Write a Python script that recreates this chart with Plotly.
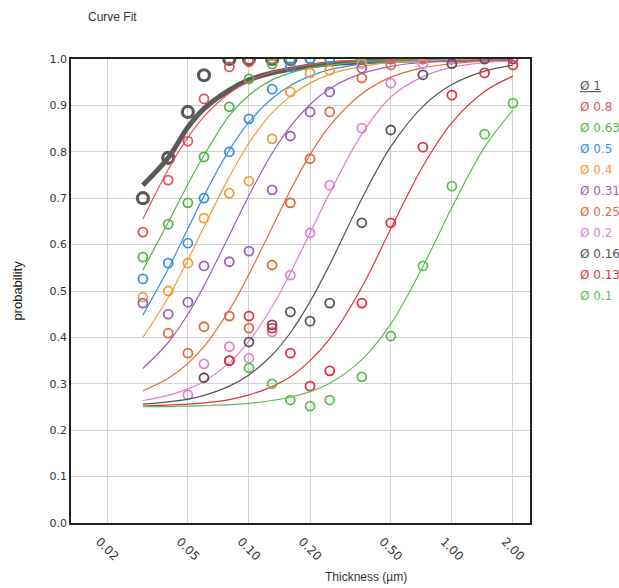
import plotly.graph_objects as go
import math

# ---------------- data ----------------
thickness = [0.03, 0.04, 0.05, 0.06, 0.08, 0.1, 0.13, 0.16, 0.2, 0.25, 0.36, 0.5, 0.72, 1.0, 1.45, 2.0]

series_names = ["1", "0.8", "0.63", "0.5", "0.4", "0.31", "0.25", "0.2", "0.16", "0.13", "0.1"]
series_colors = ["#5a5a5a", "#e8505b", "#55b548", "#3b8ede", "#f39c34", "#9b5fc0",
                 "#e06a3c", "#e47fd0", "#555555", "#e6303e", "#5bbf4e"]

# measured points: (first index into thickness, values)
pts_1 = (0, [0.700, 0.787, 0.886, 0.965, 1.0, 1.0, 1.0, 1.0])
pts_08 = (0, [0.627, 0.739, 0.823, 0.914, 0.983, 0.994, 1.0, 1.0, 1.0])
pts_063 = (0, [0.573, 0.644, 0.690, 0.789, 0.897, 0.957, 0.989, 1.0, 1.0, 1.0])
pts_05 = (0, [0.526, 0.560, 0.603, 0.700, 0.800, 0.871, 0.935, 0.983, 1.0, 1.0, 1.0])
pts_04 = (0, [0.487, 0.500, 0.560, 0.657, 0.711, 0.737, 0.828, 0.929, 0.970, 0.976, 0.990, 1.0])
pts_031 = (0, [0.474, 0.450, 0.476, 0.554, 0.563, 0.586, 0.718, 0.834, 0.886, 0.929, 0.980, 1.0, 1.0])
pts_025 = (1, [0.409, 0.366, 0.423, 0.446, 0.420, 0.556, 0.690, 0.785, 0.886, 0.959, 0.987, 1.0, 1.0])
pts_02 = (2, [0.276, 0.343, 0.380, 0.355, 0.412, 0.534, 0.625, 0.728, 0.851, 0.948, 0.990, 1.0, 1.0])
pts_016 = (3, [0.313, 0.350, 0.390, 0.427, 0.455, 0.435, 0.474, 0.647, 0.847, 0.966, 0.990, 1.0, 1.0])
pts_013 = (4, [0.350, 0.446, 0.420, 0.366, 0.295, 0.328, 0.474, 0.647, 0.810, 0.922, 0.970, 0.987])
pts_01 = (5, [0.334, 0.300, 0.265, 0.252, 0.265, 0.315, 0.403, 0.554, 0.726, 0.838, 0.905])

# fitted curves, read at each thickness value
fit_1 = [0.728, 0.787, 0.853, 0.893, 0.933, 0.955, 0.970, 0.978, 0.985, 0.990, 0.994, 0.997, 0.998, 0.999, 1.0, 1.0]
fit_08 = [0.655, 0.762, 0.831, 0.876, 0.926, 0.952, 0.972, 0.981, 0.988, 0.993, 0.997, 0.998, 0.999, 1.0, 1.0, 1.0]
fit_063 = [0.545, 0.648, 0.730, 0.792, 0.878, 0.922, 0.955, 0.970, 0.981, 0.987, 0.994, 0.997, 0.999, 1.0, 1.0, 1.0]
fit_05 = [0.448, 0.548, 0.634, 0.705, 0.804, 0.864, 0.915, 0.943, 0.963, 0.977, 0.989, 0.994, 0.997, 0.999, 0.999, 1.0]
fit_04 = [0.400, 0.486, 0.567, 0.638, 0.746, 0.819, 0.884, 0.920, 0.948, 0.967, 0.984, 0.992, 0.996, 0.998, 0.999, 1.0]
fit_031 = [0.333, 0.389, 0.450, 0.511, 0.620, 0.706, 0.797, 0.855, 0.902, 0.936, 0.969, 0.984, 0.993, 0.996, 0.998, 0.999]
fit_025 = [0.285, 0.312, 0.344, 0.380, 0.459, 0.536, 0.637, 0.717, 0.794, 0.856, 0.925, 0.961, 0.981, 0.990, 0.996, 0.998]
fit_02 = [0.264, 0.275, 0.289, 0.305, 0.345, 0.392, 0.466, 0.539, 0.625, 0.711, 0.838, 0.918, 0.962, 0.982, 0.992, 0.996]
fit_016 = [0.256, 0.261, 0.267, 0.275, 0.295, 0.319, 0.362, 0.410, 0.477, 0.557, 0.699, 0.811, 0.898, 0.945, 0.974, 0.987]
fit_013 = [0.252, 0.254, 0.256, 0.259, 0.266, 0.276, 0.294, 0.315, 0.350, 0.397, 0.508, 0.634, 0.769, 0.863, 0.930, 0.963]
fit_01 = [0.251, 0.251, 0.252, 0.253, 0.255, 0.258, 0.264, 0.271, 0.283, 0.301, 0.352, 0.429, 0.553, 0.680, 0.810, 0.890]

all_pts = [pts_1, pts_08, pts_063, pts_05, pts_04, pts_031, pts_025, pts_02, pts_016, pts_013, pts_01]
all_fits = [fit_1, fit_08, fit_063, fit_05, fit_04, fit_031, fit_025, fit_02, fit_016, fit_013, fit_01]

x_tick_vals = [0.02, 0.05, 0.1, 0.2, 0.5, 1.0, 2.0]
x_tick_text = ["0.02", "0.05", "0.10", "0.20", "0.50", "1.00", "2.00"]
y_tick_vals = [i / 10 for i in range(11)]
y_tick_text = ["%.1f" % v for v in y_tick_vals]

# ---------------- figure ----------------
fig = go.Figure()
for i, name in enumerate(series_names):
    c = series_colors[i]
    main = (i == 0)
    fig.add_trace(go.Scatter(
        x=thickness, y=all_fits[i], mode="lines", line_shape="spline",
        line=dict(color=c, width=5 if main else 1.2), showlegend=False, hoverinfo="skip"))
    start, vals = all_pts[i]
    fig.add_trace(go.Scatter(
        x=thickness[start:start + len(vals)], y=vals, mode="markers", name="Ø " + name,
        marker=dict(symbol="circle-open", size=11 if main else 9, color=c,
                    line=dict(color=c, width=3.2 if main else 1.8)),
        showlegend=False))

L, R, T, B = 71, 530, 59, 523
W, H = 619, 588

def px_x(p):
    return (p - L) / (R - L)

def px_y(p):
    return (B - p) / (B - T)

ann = []
legend_y = [86, 107, 128, 149, 170, 191, 212, 233, 254, 275, 296]
for i, name in enumerate(series_names):
    txt = "Ø " + name
    if i == 0:
        txt = "<u>" + txt + "</u>"
    ann.append(dict(x=px_x(578), y=px_y(legend_y[i]), xref="paper", yref="paper",
                    text=txt, showarrow=False, xanchor="left", yanchor="middle",
                    font=dict(family="DejaVu Sans", size=12, color=series_colors[i])))
ann.append(dict(x=px_x(86), y=px_y(17), xref="paper", yref="paper", text="Curve Fit",
                showarrow=False, xanchor="left", yanchor="middle",
                font=dict(family="Liberation Sans", size=12, color="#333")))
ann.append(dict(x=px_x(366), y=px_y(577), xref="paper", yref="paper", text="Thickness (µm)",
                showarrow=False, xanchor="center", yanchor="middle",
                font=dict(family="Liberation Sans", size=12, color="#333")))

fig.update_layout(
    width=W, height=H,
    margin=dict(l=L, r=W - R, t=T, b=H - B, autoexpand=False),
    paper_bgcolor="white", plot_bgcolor="white",
    annotations=ann,
    showlegend=False,
)
fig.update_xaxes(
    type="log", range=[math.log10(0.01327), math.log10(2.427)],
    tickvals=x_tick_vals, ticktext=x_tick_text, tickangle=45,
    tickfont=dict(family="DejaVu Sans", size=12, color="#333"),
    showgrid=True, gridcolor="#d2d2d2", gridwidth=1,
    showline=True, linecolor="#222", linewidth=1.5, mirror=True,
    ticks="", zeroline=False, ticklabelshift=-8, ticklabelstandoff=5,
)
fig.update_yaxes(
    range=[0, 1], tickvals=y_tick_vals, ticktext=y_tick_text,
    tickfont=dict(family="DejaVu Sans", size=11, color="#333"),
    showgrid=True, gridcolor="#d2d2d2", gridwidth=1,
    showline=True, linecolor="#222", linewidth=1.5, mirror=True,
    ticks="", zeroline=False,
    title=dict(text="probability", standoff=24,
               font=dict(family="Liberation Sans", size=13, color="#222")),
)
fig.write_html("out.html")
